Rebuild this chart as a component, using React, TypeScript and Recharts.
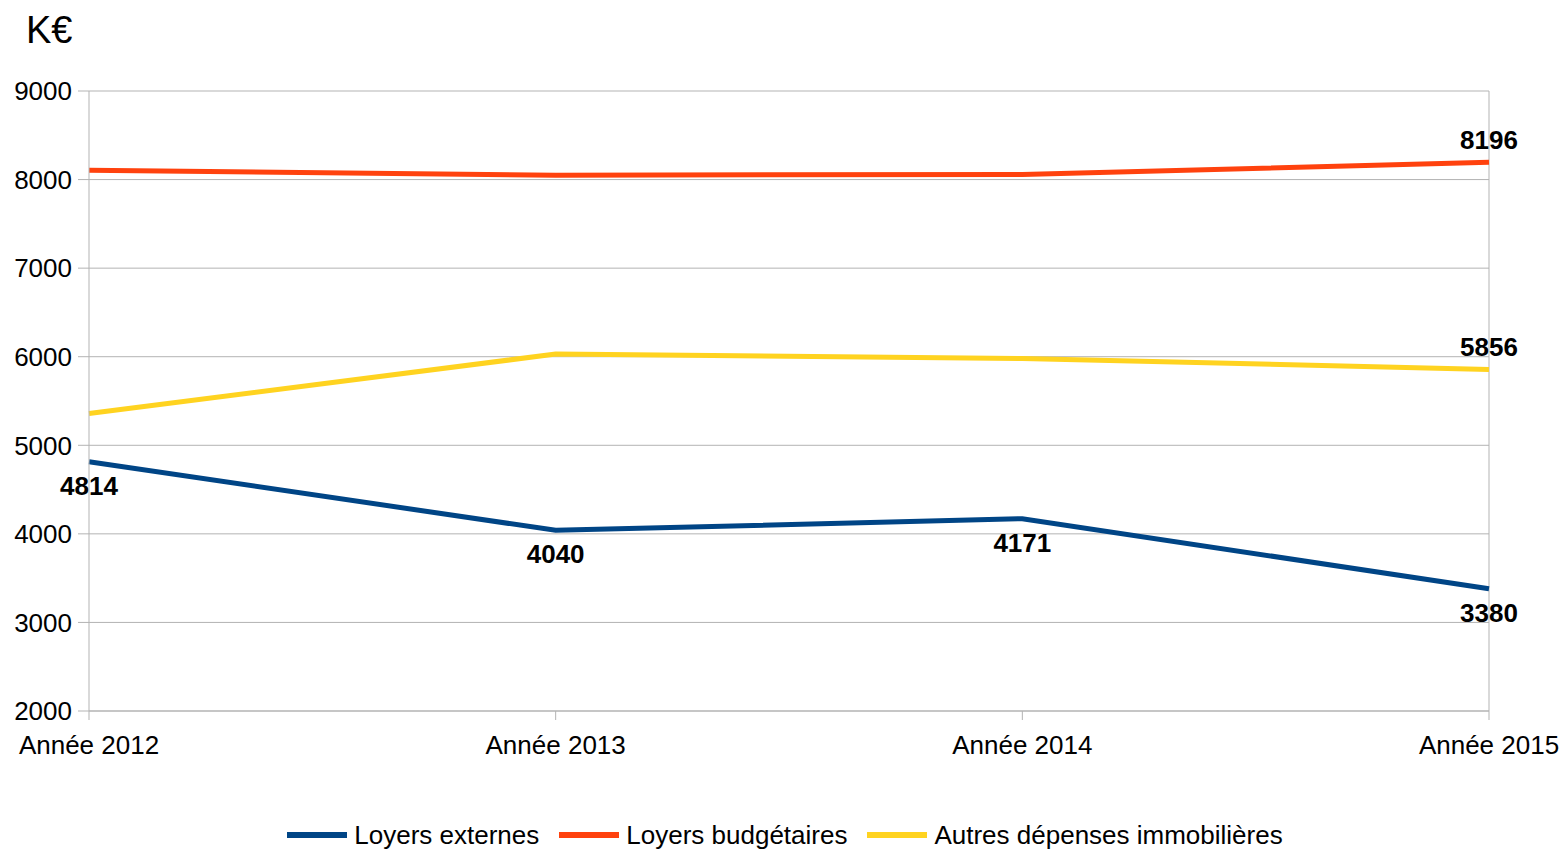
import React from "react";
import {
  LineChart,
  Line,
  XAxis,
  YAxis,
  CartesianGrid,
  ReferenceLine,
  Legend,
} from "recharts";

const years = ["Année 2012", "Année 2013", "Année 2014", "Année 2015"];
const loyersExternes = [4814, 4040, 4171, 3380];
const loyersBudgetaires = [8105, 8050, 8058, 8196];
const autresDepenses = [5360, 6030, 5980, 5856];
const yTicks = [2000, 3000, 4000, 5000, 6000, 7000, 8000, 9000];

const series = [
  { key: "externes", name: "Loyers externes", color: "#004586", labelPos: "below", labelled: [0, 1, 2, 3] },
  { key: "budgetaires", name: "Loyers budgétaires", color: "#ff420e", labelPos: "above", labelled: [3] },
  { key: "autres", name: "Autres dépenses immobilières", color: "#ffd320", labelPos: "above", labelled: [3] },
];

const data = years.map((year, i) => ({
  year,
  externes: loyersExternes[i],
  budgetaires: loyersBudgetaires[i],
  autres: autresDepenses[i],
}));

const FONT = "'Liberation Sans', Arial, sans-serif";

const makeLabel = (labelled: number[], pos: string) => (props: any) => {
  const { x, y, value, index } = props;
  if (!labelled.includes(index)) return null;
  const dy = pos === "below" ? 33 : -13;
  return (
    <text
      x={x}
      y={y + dy}
      textAnchor="middle"
      fontFamily={FONT}
      fontWeight="bold"
      fontSize={26}
      fill="#000"
    >
      {value}
    </text>
  );
};

const ChartLegend = () => (
  <div
    style={{
      display: "flex",
      justifyContent: "center",
      alignItems: "center",
      fontFamily: FONT,
      fontSize: 26,
      color: "#000",
      height: 30,
      paddingLeft: 6,
    }}
  >
    {series.map((s, i) => (
      <div
        key={s.key}
        style={{ display: "flex", alignItems: "center", marginLeft: i === 0 ? 0 : 20 }}
      >
        <div style={{ width: 60, height: 6, background: s.color, marginRight: 7 }} />
        <span>{s.name}</span>
      </div>
    ))}
  </div>
);

export default function App() {
  return (
    <div style={{ position: "absolute", left: 0, top: 0, width: 1564, height: 850, background: "#fff" }}>
      <div
        style={{
          position: "absolute",
          left: 26,
          top: 8,
          fontFamily: FONT,
          fontSize: 38,
          color: "#000",
          lineHeight: "44px",
        }}
      >
        K€
      </div>
      <LineChart
        width={1564}
        height={850}
        data={data}
        margin={{ top: 91, right: 75, left: 0, bottom: 0 }}
      >
        <CartesianGrid stroke="#b3b3b3" vertical={false} />
        <ReferenceLine x="Année 2015" stroke="#b3b3b3" />
        <XAxis
          dataKey="year"
          stroke="#b3b3b3"
          tickSize={9}
          tickMargin={16}
          height={109}
          interval={0}
          tick={{ fill: "#000", fontFamily: FONT, fontSize: 26 }}
        />
        <YAxis
          domain={[2000, 9000]}
          ticks={yTicks}
          stroke="#b3b3b3"
          width={89}
          tickSize={11}
          tickMargin={6}
          interval={0}
          tick={{ fill: "#000", fontFamily: FONT, fontSize: 26 }}
        />
        <Legend
          verticalAlign="bottom"
          height={30}
          wrapperStyle={{ left: 0, width: 1564 }}
          content={<ChartLegend />}
        />
        {series.map((s) => (
          <Line
            key={s.key}
            type="linear"
            dataKey={s.key}
            name={s.name}
            stroke={s.color}
            strokeWidth={5}
            dot={false}
            activeDot={false}
            isAnimationActive={false}
            label={makeLabel(s.labelled, s.labelPos)}
          />
        ))}
      </LineChart>
    </div>
  );
}
